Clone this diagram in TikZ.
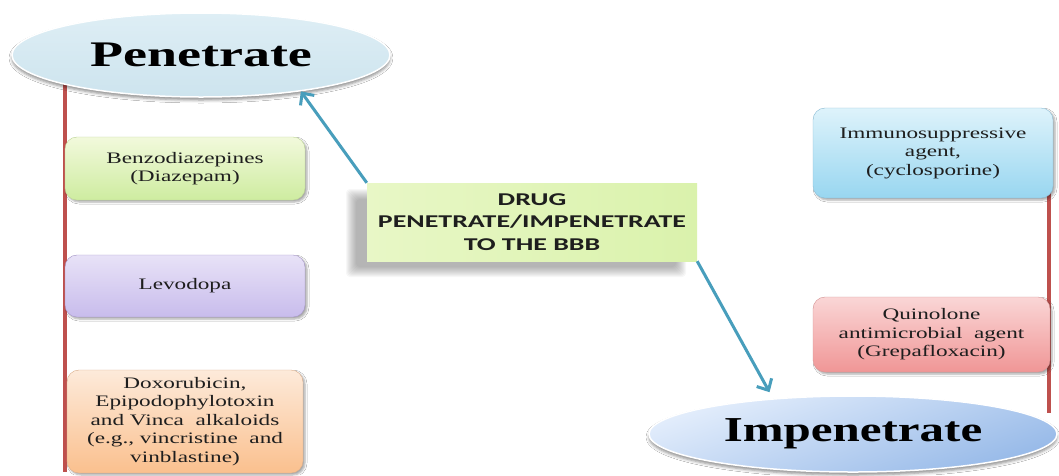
\documentclass[tikz,border=0pt]{standalone}
\usepackage{fontspec}
\setmainfont{Liberation Serif}
\newfontfamily\boxfont[FakeStretch=1.45]{Liberation Serif}
\newfontfamily\penfont[FakeStretch=1.5]{Liberation Serif}
\newfontfamily\impfont[FakeStretch=1.4]{Liberation Serif}
\newfontfamily\drugfont[FakeStretch=1.55]{Carlito}
\usetikzlibrary{arrows.meta,shadows.blur,shapes.geometric}
\definecolor{redln}{RGB}{190,80,77}
\definecolor{arr}{RGB}{72,158,188}
\definecolor{txt}{RGB}{30,30,30}
\definecolor{pentop}{RGB}{222,238,245}
\definecolor{penbot}{RGB}{205,228,238}
\definecolor{imptop}{RGB}{228,238,252}
\definecolor{impbot}{RGB}{150,185,232}
\definecolor{grtop}{RGB}{242,249,220}
\definecolor{grbot}{RGB}{206,236,160}
\definecolor{grbd}{RGB}{190,215,150}
\definecolor{putop}{RGB}{232,226,247}
\definecolor{pubot}{RGB}{200,188,236}
\definecolor{pubd}{RGB}{165,150,200}
\definecolor{ortop}{RGB}{253,234,218}
\definecolor{orbot}{RGB}{250,192,142}
\definecolor{orbd}{RGB}{220,175,140}
\definecolor{bltop}{RGB}{222,243,251}
\definecolor{blbot}{RGB}{152,214,240}
\definecolor{blbd}{RGB}{140,190,215}
\definecolor{rdtop}{RGB}{250,214,214}
\definecolor{rdbot}{RGB}{240,150,150}
\definecolor{rdbd}{RGB}{215,150,150}
\definecolor{drtop}{RGB}{232,247,198}
\definecolor{drbot}{RGB}{218,242,172}
\begin{document}
\begin{tikzpicture}[x=1pt,y=-1pt,
  redline/.style={draw=redln, line width=4pt},
  arrowline/.style={draw=arr, line width=3pt, -{Straight Barb[length=9pt,width=17pt,line width=3pt]}},
  itembox/.style={rectangle, rounded corners=12pt, inner sep=0pt, align=center,
    font=\boxfont\fontsize{16}{18.5}\selectfont, text=txt,
    blur shadow={shadow xshift=2pt, shadow yshift=-2pt, shadow blur radius=2pt, shadow opacity=35}},
  oval/.style={ellipse, inner sep=0pt, draw=white, line width=1.5pt, text=black,
    blur shadow={shadow xshift=0pt, shadow yshift=-3pt, shadow blur radius=3pt, shadow opacity=45}},
  softshade/.style={fill=black!70, fill opacity=0.045, draw=none}
]
\useasboundingbox[fill=white] (0,0) rectangle (1059,475);

\coordinate (lt) at (65,60);
\coordinate (lb) at (65,472);
\coordinate (rt) at (1049,150);
\coordinate (rb) at (1049,413);
\draw[redline] (lt) -- (lb);
\draw[redline] (rt) -- (rb);

\node[oval, minimum width=378pt, minimum height=84pt, top color=pentop, bottom color=penbot,
  font=\penfont\bfseries\fontsize{36}{40}\selectfont] (pen) at (201,55) {Penetrate};
\node[oval, minimum width=408pt, minimum height=76pt, top color=imptop, bottom color=impbot,
  shading angle=20, font=\impfont\bfseries\fontsize{35}{40}\selectfont] (imp) at (853,434) {Impenetrate};

\node[itembox, draw=grbd, top color=grtop, bottom color=grbot, minimum width=240pt, minimum height=63pt]
  (benz) at (185,168.5) {Benzodiazepines\\(Diazepam)};
\node[itembox, draw=pubd, top color=putop, bottom color=pubot, minimum width=240pt, minimum height=62pt]
  (levo) at (185,286) {Levodopa};
\node[itembox, draw=orbd, top color=ortop, bottom color=orbot, minimum width=236pt, minimum height=103pt]
  (doxo) at (185,421.5) {Doxorubicin,\\Epipodophylotoxin\\and Vinca\ \ alkaloids\\(e.g., vincristine\ \ and\\vinblastine)};
\node[itembox, draw=blbd, top color=bltop, bottom color=blbot, minimum width=240pt, minimum height=90pt]
  (immu) at (933,153) {Immunosuppressive\\agent,\\(cyclosporine)};
\node[itembox, draw=rdbd, top color=rdtop, bottom color=rdbot, minimum width=237pt, minimum height=75pt]
  (quin) at (931.5,334.5) {Quinolone\\antimicrobial\ \ agent\\(Grepafloxacin)};

% soft shadow of the central box
\foreach \k in {0,...,10}
  \fill[softshade, rounded corners=4pt] (346+\k,189+\k) rectangle (686-\k,277-\k);

\node[rectangle, inner sep=0pt, align=center, left color=drtop, right color=drbot,
  minimum width=330pt, minimum height=78pt, text=txt,
  font=\drugfont\bfseries\fontsize{18}{22.5}\selectfont]
  (drug) at (532,222) {DRUG\\PENETRATE/IMPENETRATE\\TO THE BBB};

\draw[arrowline] (drug.north west) -- (pen.-20.6);
\draw[arrowline, shorten >=7pt] (drug.south east) -- (imp.156);
\end{tikzpicture}
\end{document}
